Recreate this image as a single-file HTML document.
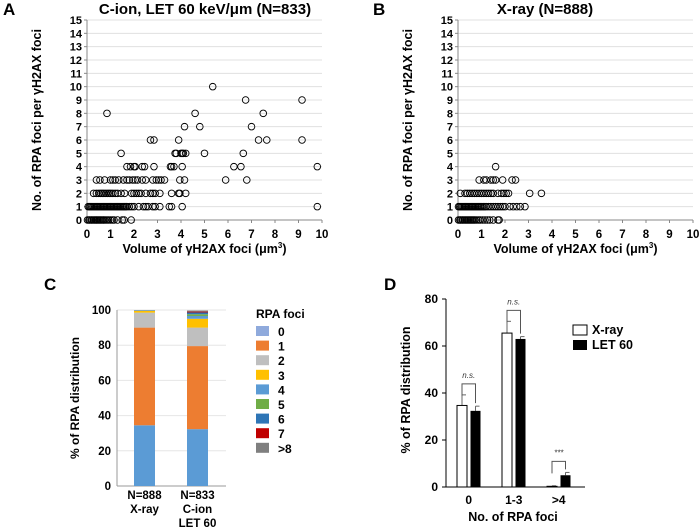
<!DOCTYPE html>
<html><head><meta charset="utf-8">
<style>
html,body{margin:0;padding:0;background:#fff}
svg{display:block;font-family:"Liberation Sans",Arial,sans-serif;font-weight:bold}
</style></head>
<body>
<svg id="fig" width="700" height="530" viewBox="0 0 700 530">
<text x="3" y="15" font-size="17">A</text>
<text x="373" y="15" font-size="17">B</text>
<text x="44" y="290" font-size="17">C</text>
<text x="384" y="290" font-size="17">D</text>
<text x="205" y="14" font-size="15" text-anchor="middle">C-ion, LET 60 keV/μm (N=833)</text>
<text x="545" y="14" font-size="15" text-anchor="middle">X-ray (N=888)</text>
<g id="gA"></g>
<g id="gB"></g>
<g id="gC"></g>
<g id="gD"></g>
</svg>
<script>
// Scatter A (C-ion): rows per RPA count
const aRowY = [0,1,2,3,4,5,6,7,8,9,10];
const aRowX = [
 [0.02,0.08,0.12,0.18,0.22,0.28,0.33,0.38,0.42,0.47,0.52,0.57,0.62,0.68,0.72,0.78,0.85,0.92,1.0,1.08,1.15,1.3,1.5,1.58,1.88],
 [0.05,0.1,0.15,0.2,0.25,0.3,0.35,0.4,0.45,0.5,0.55,0.6,0.65,0.7,0.75,0.8,0.85,0.9,0.95,1.0,1.05,1.1,1.15,1.2,1.25,1.3,1.35,1.4,1.45,1.5,1.55,1.6,1.65,1.7,1.8,1.9,2.0,2.2,2.4,2.5,2.6,2.8,2.9,3.1,3.5,3.6,4.05,9.8],
 [0.28,0.4,0.5,0.58,0.65,0.72,0.8,0.88,0.95,1.02,1.1,1.2,1.3,1.45,1.6,1.9,2.0,2.1,2.2,2.3,2.5,2.7,2.8,2.9,3.1,3.6,3.9,3.95,4.2],
 [0.4,0.55,0.75,1.0,1.1,1.2,1.35,1.55,1.7,1.8,1.95,2.05,2.15,2.35,2.5,2.8,2.95,3.05,3.15,3.3,3.95,4.15,5.9,6.8],
 [1.7,1.85,2.0,2.05,2.35,2.45,2.85,3.55,3.6,3.7,4.05,6.25,6.55,9.8],
 [1.45,3.75,3.8,4.0,4.05,4.1,4.2,5.0,6.65],
 [2.7,2.85,3.9,7.3,7.65,9.15],
 [4.15,4.8,7.0],
 [0.85,4.6,7.5],
 [6.75,9.15],
 [5.35]
];
// Scatter B (X-ray)
const bRowY = [0,1,2,3,4];
const bRowX = [
 [0.02,0.08,0.12,0.18,0.22,0.28,0.33,0.38,0.43,0.48,0.53,0.58,0.63,0.68,0.73,0.8,0.88,0.95,1.05,1.15,1.25,1.35,1.5,1.7,1.75],
 [0.02,0.07,0.12,0.17,0.22,0.27,0.32,0.37,0.42,0.47,0.52,0.57,0.62,0.67,0.72,0.77,0.82,0.87,0.92,0.97,1.02,1.08,1.14,1.2,1.3,1.4,1.5,1.6,1.7,1.8,1.9,2.0,2.2,2.35,2.5,2.65,2.85],
 [0.1,0.3,0.4,0.5,0.6,0.7,0.8,0.9,1.0,1.1,1.2,1.3,1.4,1.5,1.7,1.85,1.95,2.05,2.15,3.05,3.55],
 [0.9,1.1,1.2,1.4,1.5,1.6,1.9,2.3,2.45],
 [1.6]
];
const scatterYTicks = [0,1,2,3,4,5,6,7,8,9,10,11,12,13,14,15];
const scatterXTicks = [0,1,2,3,4,5,6,7,8,9,10];
// Panel C stacked
const cCats = ["X-ray","C-ion"];
const cLabels1 = ["N=888","N=833"];
const cLabels2 = [["X-ray"],["C-ion","LET 60"]];
const cKeys = ["0","1","2","3","4","5","6","7",">8"];
const cXray = [34.5,55.5,8.5,1.0,0.3,0.1,0.05,0.03,0.02];
const cCion = [32.3,47.2,10.5,5.0,1.6,1.0,1.0,0.5,0.6];
const cColors = ["#5b9bd5","#ed7d31","#bfbfbf","#ffc000","#5b9bd5","#70ad47","#2e75b6","#c00000","#7f7f7f"];
const cLegendColors = ["#8faadc","#ed7d31","#bfbfbf","#ffc000","#5b9bd5","#70ad47","#2e75b6","#c00000","#7f7f7f"];
const cTicks = [0,20,40,60,80,100];
// Panel D grouped
const dCats = ["0","1-3",">4"];
const dXray = [34.7,65.5,0.3];
const dXrayErr = [4.5,5.0,0.2];
const dLet = [32.4,63.0,5.0];
const dLetErr = [2.0,1.0,1.2];
const dSig = ["n.s.","n.s.","***"];
const dTicks = [0,20,40,60,80];

const NS="http://www.w3.org/2000/svg";
function mk(parent,tag,attrs,txt){const e=document.createElementNS(NS,tag);for(const k in attrs)e.setAttribute(k,attrs[k]);if(txt!==undefined)e.textContent=txt;parent.appendChild(e);return e;}

function scatter(g,x0,x1,rowsY,rowsX,prefix){
  const y0=220,y1=20;
  const sx=v=>x0+(x1-x0)*v/10, sy=v=>y0+(y1-y0)*v/15;
  scatterYTicks.forEach(t=>{
    if(t>0){const l=mk(g,'line',{x1:x0,x2:x1,y1:sy(t),y2:sy(t),stroke:'#e0e0e0','stroke-width':1});
    
    }
    const tx=mk(g,'text',{x:x0-5,y:sy(t)+4,'font-size':11,'text-anchor':'end'},String(t));
    
    
    mk(g,'line',{x1:x0-3,x2:x0,y1:sy(t),y2:sy(t),stroke:'#888'});
  });
  scatterXTicks.forEach(t=>{
    const tx=mk(g,'text',{x:sx(t),y:y0+18,'font-size':11.5,'text-anchor':'middle'},String(t));
    
    
    mk(g,'line',{x1:sx(t),x2:sx(t),y1:y0,y2:y0+3,stroke:'#888'});
  });
  const ya=mk(g,'line',{x1:x0,x2:x0,y1:y0,y2:y1,stroke:'#888','stroke-width':1});
  
  
  const xa=mk(g,'line',{x1:x0,x2:x1,y1:y0,y2:y0,stroke:'#888','stroke-width':1});
  
  
  rowsY.forEach((yv,i)=>{
    rowsX[i].forEach(xv=>{
      const c=mk(g,'circle',{cx:sx(xv),cy:sy(yv),r:3.3,fill:'none',stroke:'#000','stroke-width':0.9});
      
      
    });
  });
  const xl=mk(g,'text',{x:(x0+x1)/2,y:253,'font-size':12.5,'text-anchor':'middle'},'');
  xl.innerHTML='Volume of γH2AX foci (μm<tspan font-size="8" dy="-5">3</tspan><tspan dy="5">)</tspan>';
  
  
  const yl=mk(g,'text',{x:0,y:0,'font-size':12.5,'text-anchor':'middle',transform:`translate(${x0-46},120) rotate(-90)`},'No. of RPA foci per γH2AX foci');
  
  
}
scatter(document.getElementById('gA'),87,322,aRowY,aRowX,'cion');
scatter(document.getElementById('gB'),458,693,bRowY,bRowX,'xray');

// Panel C
(function(){
  const g=document.getElementById('gC');
  const x0=117,y0=486,y1=310;
  const sy=v=>y0+(y1-y0)*v/100;
  cTicks.forEach(t=>{
    if(t>0){const l=mk(g,'line',{x1:x0,x2:226,y1:sy(t),y2:sy(t),stroke:'#e6e6e6'});
    
    }
    const tx=mk(g,'text',{x:x0-6,y:sy(t)+4,'font-size':11.5,'text-anchor':'end'},String(t));
    
    
  });
  const ya=mk(g,'line',{x1:x0,x2:x0,y1:y0,y2:y1,stroke:'#999'});
  
  
  const xa=mk(g,'line',{x1:x0,x2:226,y1:y0,y2:y0,stroke:'#999'});
  
  
  const series=[cXray,cCion], bx=[134,187];
  series.forEach((vals,i)=>{
    let cum=0;
    vals.forEach((v,k)=>{
      const r=mk(g,'rect',{x:bx[i],width:21,y:sy(cum+v),height:sy(cum)-sy(cum+v),fill:cColors[k]});
      
      
      cum+=v;
    });
    const t1=mk(g,'text',{x:bx[i]+10.5,y:499,'font-size':11.5,'text-anchor':'middle'},cLabels1[i]);
    
    
    cLabels2[i].forEach((s,j)=>{
      const t=mk(g,'text',{x:bx[i]+10.5,y:513+j*14,'font-size':11.5,'text-anchor':'middle'},s);
      
      
    });
  });
  const yl=mk(g,'text',{x:0,y:0,'font-size':12,'text-anchor':'middle',transform:'translate(79,398) rotate(-90)'},'% of RPA distribution');
  
  
  const lt=mk(g,'text',{x:256,y:318,'font-size':12},'RPA foci');
  
  
  cKeys.forEach((k,i)=>{
    const yy=326+i*14.6;
    const r=mk(g,'rect',{x:256,y:yy,width:13,height:10,fill:cLegendColors[i]});
    
    
    const t=mk(g,'text',{x:278,y:yy+10,'font-size':12},k);
    
    
  });
})();

// Panel D
(function(){
  const g=document.getElementById('gD');
  const x0=446,x1=585,y0=487,y1=299;
  const sy=v=>y0+(y1-y0)*v/80;
  dTicks.forEach(t=>{
    const tx=mk(g,'text',{x:x0-8,y:sy(t)+4,'font-size':12,'text-anchor':'end'},String(t));
    
    
    mk(g,'line',{x1:x0-4,x2:x0,y1:sy(t),y2:sy(t),stroke:'#000'});
  });
  const ya=mk(g,'line',{x1:x0,x2:x0,y1:y0,y2:y1,stroke:'#000'});
  
  
  const xa=mk(g,'line',{x1:x0,x2:x1,y1:y0,y2:y0,stroke:'#000'});
  
  
  const gx=[457,502,547];
  dCats.forEach((c,i)=>{
    const wx=gx[i], bx=gx[i]+13.5;
    const hw=sy(0)-sy(dXray[i]), hb=sy(0)-sy(dLet[i]);
    mk(g,'line',{x1:wx+5,x2:wx+5,y1:sy(dXray[i]),y2:sy(dXray[i]+dXrayErr[i]),stroke:'#666'});
    mk(g,'line',{x1:wx+5,x2:wx+9,y1:sy(dXray[i]+dXrayErr[i]),y2:sy(dXray[i]+dXrayErr[i]),stroke:'#666'});
    const r1=mk(g,'rect',{x:wx,y:sy(dXray[i]),width:10,height:Math.max(hw,0.5),fill:'#fff',stroke:'#000','stroke-width':1});
    
    
    mk(g,'line',{x1:bx+5,x2:bx+5,y1:sy(dLet[i]),y2:sy(dLet[i]+dLetErr[i]),stroke:'#666'});
    mk(g,'line',{x1:bx+5,x2:bx+9,y1:sy(dLet[i]+dLetErr[i]),y2:sy(dLet[i]+dLetErr[i]),stroke:'#666'});
    const r2=mk(g,'rect',{x:bx,y:sy(dLet[i]),width:10,height:hb,fill:'#000'});
    
    
    const top=Math.max(dXray[i]+dXrayErr[i],dLet[i]+dLetErr[i]);
    const by=sy(top)-11;
    const br=mk(g,'path',{d:`M${wx+5},${by+12} L${wx+5},${by} L${bx+5},${by} L${bx+5},${sy(dLet[i]+dLetErr[i])-3}`,fill:'none',stroke:'#555','stroke-width':1});
    
    
    const st=mk(g,'text',{x:(wx+bx+10)/2,y:by-6,'font-size':8,'font-style':'italic','font-weight':'normal','text-anchor':'middle',fill:'#333'},dSig[i]);
    
    
    const cl=mk(g,'text',{x:(wx+bx+10)/2,y:504,'font-size':12,'text-anchor':'middle'},c);
    
    
  });
  const xl=mk(g,'text',{x:513,y:521,'font-size':12.5,'text-anchor':'middle'},'No. of RPA foci');
  
  
  const yl=mk(g,'text',{x:0,y:0,'font-size':12.5,'text-anchor':'middle',transform:'translate(410,390) rotate(-90)'},'% of RPA distribution');
  
  
  const l1=mk(g,'rect',{x:573,y:325,width:14,height:10,fill:'#fff',stroke:'#000'});
  
  
  const t1=mk(g,'text',{x:592,y:334,'font-size':12.5},'X-ray');
  
  
  const l2=mk(g,'rect',{x:573,y:340,width:14,height:10,fill:'#000'});
  
  
  const t2=mk(g,'text',{x:592,y:349,'font-size':12.5},'LET 60');
  
  
})();
</script>
</body></html>
